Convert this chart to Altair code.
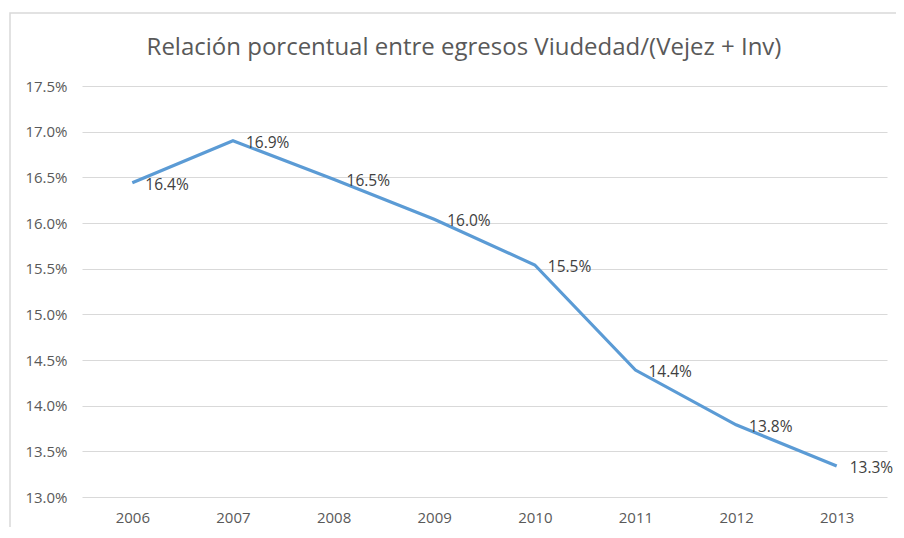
import altair as alt
import pandas as pd

years = ["2006", "2007", "2008", "2009", "2010", "2011", "2012", "2013"]
ratio = [0.1644, 0.1690, 0.1648, 0.1604, 0.1554, 0.1439, 0.1379, 0.1334]
labels = ["16.4%", "16.9%", "16.5%", "16.0%", "15.5%", "14.4%", "13.8%", "13.3%"]
y_ticks = [0.130, 0.135, 0.140, 0.145, 0.150, 0.155, 0.160, 0.165, 0.170, 0.175]
title_text = "Relación porcentual entre egresos Viudedad/(Vejez + Inv)"

df = pd.DataFrame({"year": years, "ratio": ratio, "label": labels})

FONT = "Open Sans"
GREY = "#595959"

x = alt.X("year:N", sort=years, title=None,
          scale=alt.Scale(paddingInner=0, paddingOuter=0.5),
          axis=alt.Axis(labelAngle=0, ticks=False, domain=False, grid=False,
                        labelPadding=13, labelFontSize=15, labelColor=GREY,
                        labelFont=FONT))
y = alt.Y("ratio:Q", title=None,
          scale=alt.Scale(domain=[0.13, 0.175], nice=False, zero=False),
          axis=alt.Axis(values=y_ticks, format=".1%", ticks=False, domain=False,
                        gridColor="#D9D9D9", gridWidth=1, labelPadding=15,
                        labelFontSize=15, labelColor=GREY, labelFont=FONT))

base = alt.Chart(df)
one = base.transform_filter(alt.datum.year == "2006")

border = one.mark_rect(fill=None, stroke="#D9D9D9", strokeWidth=1.5).encode(
    x=alt.value(-72), x2=alt.value(900), y=alt.value(-73), y2=alt.value(470)
)

title = one.mark_text(align="center", baseline="alphabetic", font=FONT,
                      fontSize=24, color=GREY).encode(
    x=alt.value(382), y=alt.value(-31), text=alt.value(title_text)
)

line = base.mark_line(color="#5B9BD5", strokeWidth=3.2).encode(x=x, y=y)

text = base.mark_text(align="left", baseline="middle", dx=13, dy=2,
                      font=FONT, fontSize=15.5, color="#404040").encode(
    x=x, y=y, text="label:N")

chart = alt.layer(border, title, line, text).properties(
    width=805, height=411,
    padding={"left": 74, "top": 78, "right": 9, "bottom": 30},
    autosize=alt.AutoSizeParams(type="none"),
).configure_view(stroke=None)

chart.save("out.html", embed_options={"renderer": "svg", "actions": False})
